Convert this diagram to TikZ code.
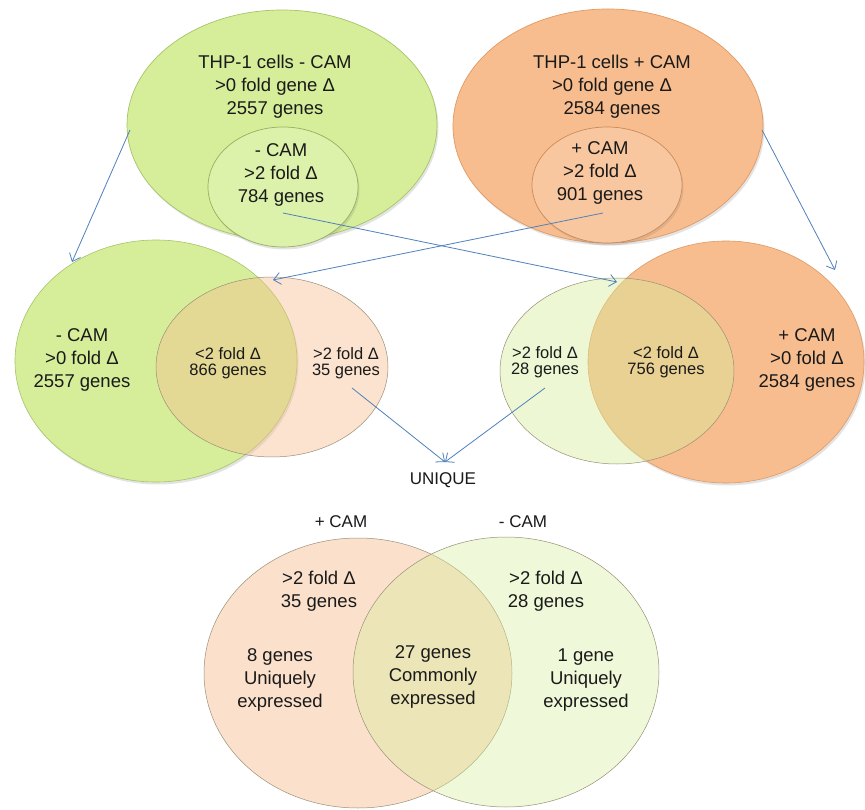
\documentclass[tikz,border=0pt]{standalone}
\usepackage{fontspec}
\setmainfont{Liberation Sans}
\usetikzlibrary{shapes.geometric,arrows.meta,shadows}
\definecolor{grn}{HTML}{D6EE9A}
\definecolor{grnd}{HTML}{A6C468}
\definecolor{org}{HTML}{F8BD8E}
\definecolor{orgd}{HTML}{E09A64}
\definecolor{arr}{HTML}{4F81BD}
\definecolor{ink}{HTML}{1A1A1A}
\definecolor{rim}{HTML}{9A9078}
\begin{document}
\begin{tikzpicture}[x=1pt,y=-1pt,
  ell/.style={ellipse, inner sep=0pt},
  shad/.style={drop shadow={opacity=0.22, shadow xshift=1.5pt, shadow yshift=-2.5pt}},
  bigtxt/.style={font=\fontsize{18.5}{23}\selectfont, align=center, text=ink},
  smalltxt/.style={font=\fontsize{16.5}{15.5}\selectfont, align=center, text=ink},
  lbl/.style={font=\fontsize{17}{20}\selectfont, text=ink},
  conn/.style={draw=arr, line width=0.8pt, -{Straight Barb[length=7pt,width=12pt]}}]
\useasboundingbox (0,0) rectangle (865,810);
\fill[white] (0,0) rectangle (865,810);

% top ellipses
\node[ell, shad, fill=grn, draw=grnd, line width=0.7pt, minimum width=310pt, minimum height=230pt] (A) at (282,125) {};
\node[ell, shad, fill=grn!85!white, draw=grnd!90!black, line width=0.7pt, minimum width=150pt, minimum height=120pt] (A2) at (283,187) {};
\node[ell, shad, fill=org, draw=orgd, line width=0.7pt, minimum width=310pt, minimum height=234pt] (B) at (608,126) {};
\node[ell, shad, fill=org!85!white, draw=orgd!90!black, line width=0.7pt, minimum width=150pt, minimum height=116pt] (B2) at (607,185) {};

% middle left
\node[ell, shad, fill=grn, draw=grnd, line width=0.6pt, minimum width=282pt, minimum height=242pt] (C) at (156,361) {};
\node[ell, fill=org, fill opacity=0.42, draw=rim, line width=0.5pt, minimum width=232pt, minimum height=180pt] (C2) at (272,367) {};

% middle right
\node[ell, shad, fill=org, draw=orgd, line width=0.6pt, minimum width=276pt, minimum height=242pt] (D) at (726,362) {};
\node[ell, fill=grn, fill opacity=0.42, draw=rim, line width=0.5pt, minimum width=234pt, minimum height=186pt] (D2) at (617,371) {};

% bottom
\node[ell, fill=org, fill opacity=0.45, draw=rim, line width=0.5pt, minimum width=308pt, minimum height=270pt] (E) at (358,673) {};
\node[ell, fill=grn, fill opacity=0.38, draw=rim, line width=0.5pt, minimum width=306pt, minimum height=270pt] (F) at (506,672) {};

% texts
\node[bigtxt] (tA) at (275,87) {THP-1 cells - CAM\\>0 fold gene Δ\\2557 genes};
\node[bigtxt] (tA2) at (281,175) {- CAM\\>2 fold Δ\\784 genes};
\node[bigtxt] (tB) at (612,87) {THP-1 cells + CAM\\>0 fold gene Δ\\2584 genes};
\node[bigtxt] (tB2) at (600,173) {+ CAM\\>2 fold Δ\\901 genes};

\node[bigtxt] (tC) at (82,360) {- CAM\\>0 fold Δ\\2557 genes};
\node[smalltxt] (tC2) at (228,363) {<2 fold Δ\\866 genes};
\node[smalltxt] (tC3) at (346,363) {>2 fold Δ\\35 genes};
\node[smalltxt] (tD2) at (545,362) {>2 fold Δ\\28 genes};
\node[smalltxt] (tD3) at (666,362) {<2 fold Δ\\756 genes};
\node[bigtxt] (tD) at (807,360) {+ CAM\\>0 fold Δ\\2584 genes};

\node[lbl] (uniq) at (443,480) {UNIQUE};
\node[lbl] (lp) at (341,522) {+ CAM};
\node[lbl] (lm) at (523,522) {- CAM};
\node[bigtxt] (tE1) at (319,591) {>2 fold Δ\\35 genes};
\node[bigtxt] (tF1) at (546,591) {>2 fold Δ\\28 genes};
\node[bigtxt] (tE2) at (280,680) {8 genes\\Uniquely\\expressed};
\node[bigtxt] (tEF) at (433,677) {27 genes\\Commonly\\expressed};
\node[bigtxt] (tF2) at (586,680) {1 gene\\Uniquely\\expressed};

% connector ends
\coordinate (a1) at (130,130);
\coordinate (a1e) at (72,262);
\coordinate (a2) at (283,213);
\coordinate (a2e) at (617,282);
\coordinate (a3) at (603,213);
\coordinate (a3e) at (273,280);
\coordinate (a4) at (762,130);
\coordinate (a4e) at (835,270);
\coordinate (a5) at (352,388);
\coordinate (a6) at (545,388);
\coordinate (u) at (445,462);

\draw[conn] (a1) -- (a1e);
\draw[conn] (a2) -- (a2e);
\draw[conn] (a3) -- (a3e);
\draw[conn] (a4) -- (a4e);
\draw[conn] (a5) -- (u);
\draw[conn] (a6) -- (u);
\end{tikzpicture}
\end{document}
